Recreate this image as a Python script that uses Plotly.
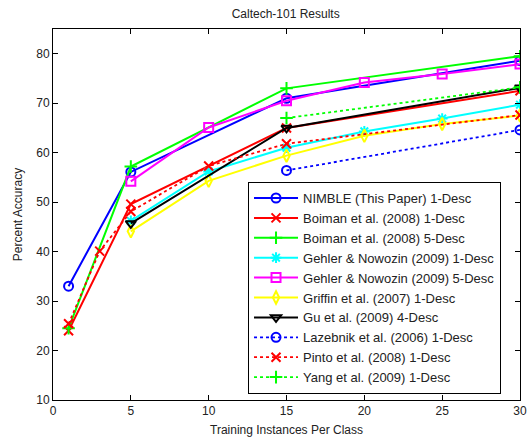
import plotly.graph_objects as go

# --- data ---
nimble_x = [1, 5, 15, 30]
nimble_y = [33.0, 56.1, 71.0, 78.6]

boiman1_x = [1, 5, 15, 30]
boiman1_y = [24.0, 49.6, 65.0, 72.5]

boiman5_x = [1, 5, 15, 30]
boiman5_y = [24.5, 57.2, 73.0, 79.5]

gehler1_x = [5, 10, 15, 20, 25, 30]
gehler1_y = [46.2, 56.2, 61.0, 64.3, 66.9, 69.7]

gehler5_x = [5, 10, 15, 20, 25, 30]
gehler5_y = [54.2, 65.1, 70.5, 74.2, 75.9, 77.9]

griffin_x = [5, 10, 15, 20, 25, 30]
griffin_y = [44.1, 54.3, 59.4, 63.4, 65.8, 67.5]

gu_x = [5, 15, 30]
gu_y = [45.7, 65.0, 73.1]

lazebnik_x = [15, 30]
lazebnik_y = [56.4, 64.6]

pinto_x = [1, 3, 5, 10, 15, 30]
pinto_y = [25.4, 40.1, 48.1, 57.3, 61.8, 67.6]

yang_x = [15, 30]
yang_y = [67.0, 73.2]

x_ticks = [0, 5, 10, 15, 20, 25, 30]
y_ticks = [10, 20, 30, 40, 50, 60, 70, 80]

series = [
    ("NIMBLE (This Paper) 1-Desc", nimble_x, nimble_y, "#0000FF", "solid", "circle-open"),
    ("Boiman et al. (2008) 1-Desc", boiman1_x, boiman1_y, "#FF0000", "solid", "x-thin-open"),
    ("Boiman et al. (2008) 5-Desc", boiman5_x, boiman5_y, "#00FF00", "solid", "cross-thin-open"),
    ("Gehler & Nowozin (2009) 1-Desc", gehler1_x, gehler1_y, "#00FFFF", "solid", "asterisk-open"),
    ("Gehler & Nowozin (2009) 5-Desc", gehler5_x, gehler5_y, "#FF00FF", "solid", "square-open"),
    ("Griffin et al. (2007) 1-Desc", griffin_x, griffin_y, "#FFFF00", "solid", "diamond-tall-open"),
    ("Gu et al. (2009) 4-Desc", gu_x, gu_y, "#000000", "solid", "triangle-down-open"),
    ("Lazebnik et al. (2006) 1-Desc", lazebnik_x, lazebnik_y, "#0000FF", "dot", "circle-open"),
    ("Pinto et al. (2008) 1-Desc", pinto_x, pinto_y, "#FF0000", "dot", "x-thin-open"),
    ("Yang et al. (2009) 1-Desc", yang_x, yang_y, "#00FF00", "dot", "cross-thin-open"),
]

fig = go.Figure()
for name, xs, ys, color, dash, sym in series:
    fig.add_trace(go.Scatter(
        x=xs, y=ys, name=name, mode="lines+markers",
        line=dict(color=color, width=2 if dash == "solid" else 1.8, dash=dash),
        marker=dict(symbol=sym, size=9, color=color, line=dict(color=color, width=2)),
    ))

axis_common = dict(
    showgrid=False, zeroline=False, showline=True, linecolor="black", linewidth=1,
    mirror="ticks", ticks="inside", ticklen=5, tickcolor="black", automargin=False,
    tickfont=dict(family="Liberation Sans, Arial, sans-serif", size=12, color="#222"),
)

fig.update_layout(
    width=529, height=440,
    margin=dict(l=53, r=9, t=29, b=40),
    paper_bgcolor="white", plot_bgcolor="white",
    font=dict(family="Liberation Sans, Arial, sans-serif", size=12, color="#222"),
    title=dict(text="Caltech-101 Results", x=0.54, xanchor="center", y=0.968, yanchor="middle",
               font=dict(size=12, color="#222")),
    xaxis=dict(range=[0, 30], tickvals=x_ticks,
               title=dict(text="Training Instances Per Class", standoff=8, font=dict(size=12)),
               **axis_common),
    yaxis=dict(range=[10, 85], tickvals=y_ticks,
               title=dict(text="Percent Accuracy", standoff=11, font=dict(size=12)),
               **axis_common),
    legend=dict(x=0.4176, y=0.016, xanchor="left", yanchor="bottom",
                bgcolor="white", bordercolor="black", borderwidth=1,
                font=dict(size=13, color="#222"), itemwidth=44,
                tracegroupgap=0, traceorder="normal"),
    showlegend=True,
)

fig.write_html("out.html", config={"displayModeBar": False},
               post_script="document.body.style.margin='0';")
